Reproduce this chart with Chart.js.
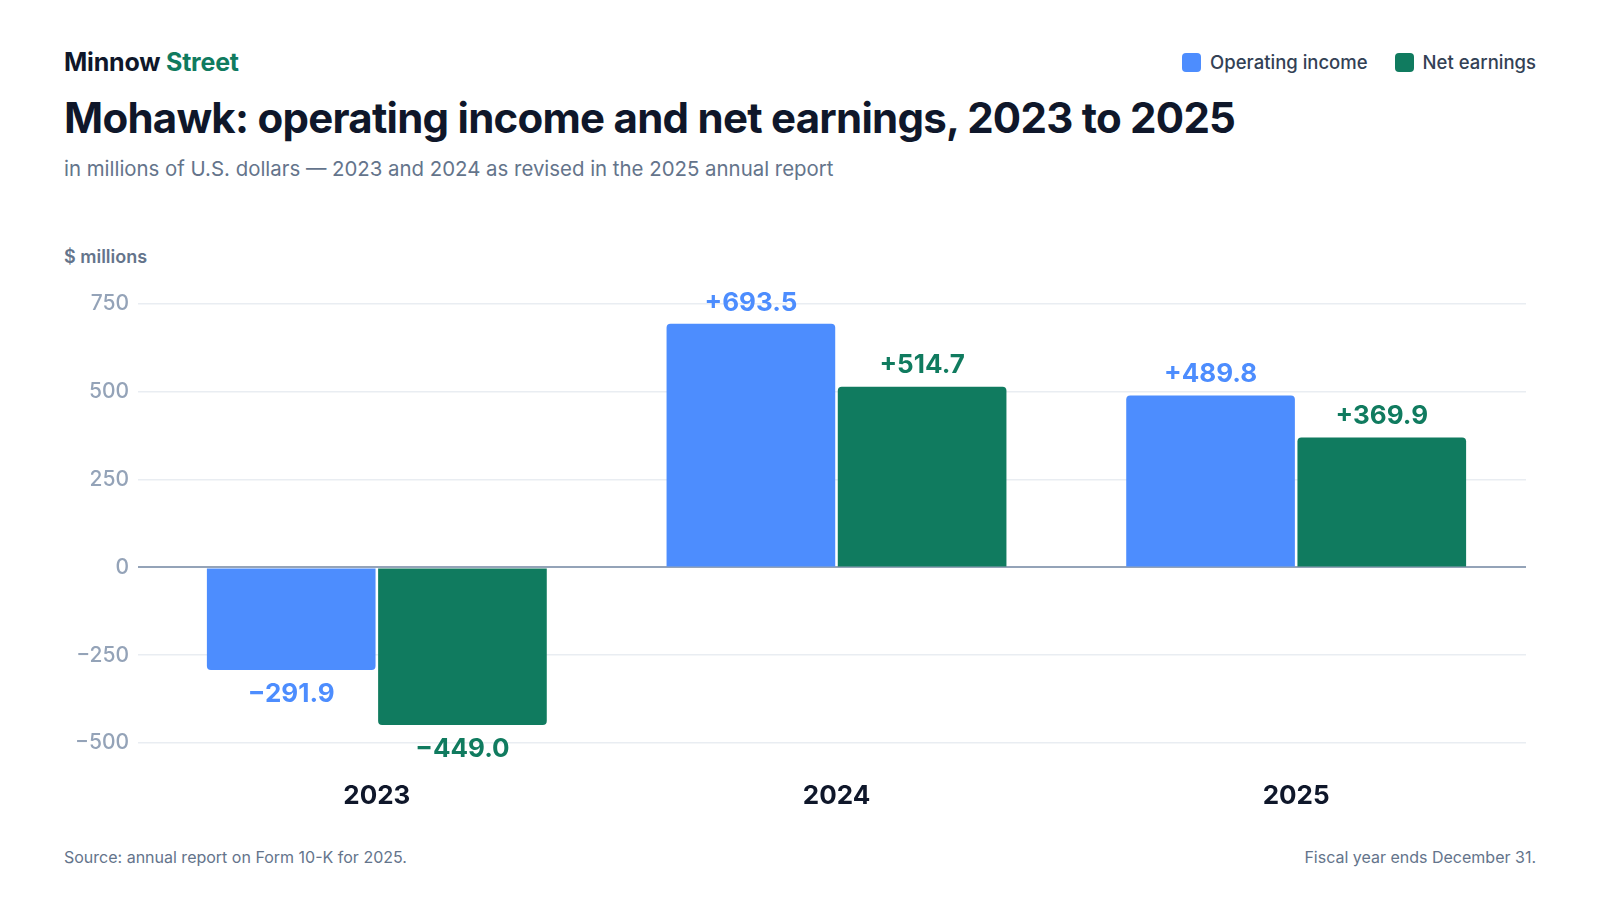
<!DOCTYPE html>
<html>
<head>
<meta charset="utf-8">
<script src="https://cdn.jsdelivr.net/npm/chart.js@4.4.1/dist/chart.umd.min.js"></script>
<style>
  html, body { margin: 0; padding: 0; background: #ffffff; }
  body { width: 1600px; height: 900px; position: relative; overflow: hidden; font-family: Inter, "Noto Sans", sans-serif; }
  .abs { position: absolute; white-space: nowrap; }
  #brand { left: 64px; top: 50px; font-size: 25px; line-height: 25px; font-weight: 700; color: #0f172a; letter-spacing: -0.2px; }
  #brand span { color: #107b5f; }
  #title { left: 64px; top: 97px; font-size: 42px; line-height: 42px; font-weight: 700; color: #0f172a; letter-spacing: -0.75px; }
  #subtitle { left: 64px; top: 159px; font-size: 20.4px; line-height: 20px; font-weight: 400; color: #64748b; }
  #unit { left: 64px; top: 248px; font-size: 18px; line-height: 18px; font-weight: 600; color: #64748b; }
  #legend { right: 64px; top: 52px; display: flex; align-items: center; font-size: 18.5px; line-height: 20px; font-weight: 500; color: #334155; }
  .li { display: flex; align-items: center; }
  .sw { width: 19px; height: 19px; border-radius: 4px; margin-right: 9px; }
  #footL { left: 64px; top: 849px; font-size: 16px; line-height: 16px; color: #64748b; }
  #footR { right: 64px; top: 849px; font-size: 16px; line-height: 16px; color: #64748b; }
  #wrap { position: absolute; left: 0; top: 241px; width: 1600px; height: 600px; }
</style>
</head>
<body>
<div id="brand" class="abs">Minnow <span>Street</span></div>
<div id="legend" class="abs"></div>
<div id="title" class="abs">Mohawk: operating income and net earnings, 2023 to 2025</div>
<div id="subtitle" class="abs">in millions of U.S. dollars — 2023 and 2024 as revised in the 2025 annual report</div>
<div id="unit" class="abs">$ millions</div>
<div id="wrap"><canvas id="c"></canvas></div>
<div id="footL" class="abs">Source: annual report on Form 10-K for 2025.</div>
<div id="footR" class="abs">Fiscal year ends December 31.</div>
<script>
const categories = ['2023', '2024', '2025'];
const operatingIncome = [-291.9, 693.5, 489.8];
const netEarnings = [-449.0, 514.7, 369.9];
const seriesNames = ['Operating income', 'Net earnings'];
const yTicks = [-500, -250, 0, 250, 500, 750];

const BLUE = '#4d8dfe';
const GREEN = '#107b5f';
const colors = [BLUE, GREEN];

// HTML legend
const legend = document.getElementById('legend');
seriesNames.forEach((n, i) => {
  const li = document.createElement('div');
  li.className = 'li';
  if (i > 0) li.style.marginLeft = '27px';
  const sw = document.createElement('div');
  sw.className = 'sw';
  sw.style.background = colors[i];
  const t = document.createElement('span');
  t.textContent = n;
  li.appendChild(sw); li.appendChild(t);
  legend.appendChild(li);
});

const fmtSigned = v => (v > 0 ? '+' : v < 0 ? '\u2212' : '') + Math.abs(v).toFixed(1);

const valueLabels = {
  id: 'valueLabels',
  afterDatasetsDraw(chart) {
    const ctx = chart.ctx;
    ctx.save();
    ctx.font = '700 26px Inter, "Noto Sans", sans-serif';
    ctx.textAlign = 'center';
    ctx.textBaseline = 'middle';
    chart.data.datasets.forEach((ds, di) => {
      const meta = chart.getDatasetMeta(di);
      meta.data.forEach((el, i) => {
        const v = ds.data[i];
        ctx.fillStyle = ds.backgroundColor;
        const y = v >= 0 ? el.y - 21 : el.y + 24;
        ctx.fillText(fmtSigned(v), el.x, y);
      });
    });
    ctx.restore();
  }
};

new Chart(document.getElementById('c'), {
  type: 'bar',
  data: {
    labels: categories,
    datasets: [
      { label: seriesNames[0], data: operatingIncome, backgroundColor: BLUE, borderRadius: 4, borderSkipped: 'start',
        categoryPercentage: 0.745, barPercentage: 0.985 },
      { label: seriesNames[1], data: netEarnings, backgroundColor: GREEN, borderRadius: 4, borderSkipped: 'start',
        categoryPercentage: 0.745, barPercentage: 0.985 }
    ]
  },
  options: {
    responsive: true,
    maintainAspectRatio: false,
    animation: false,
    layout: { padding: { left: 0, right: 74, top: 63, bottom: 28 } },
    plugins: { legend: { display: false }, tooltip: { enabled: false } },
    scales: {
      x: {
        grid: { display: false, drawTicks: false },
        border: { display: false },
        ticks: { color: '#0f172a', font: { family: 'Inter', size: 26, weight: '700' }, padding: 38 },
        afterFit(s) { s.height = 70; }
      },
      y: {
        min: yTicks[0],
        max: yTicks[yTicks.length - 1],
        afterBuildTicks(s) { s.ticks = yTicks.map(v => ({ value: v })); },
        border: { display: false },
        grid: {
          color: c => (c.tick && c.tick.value === 0) ? '#94a3b8' : '#e9edf2',
          lineWidth: c => (c.tick && c.tick.value === 0) ? 2 : 1.5,
          drawTicks: true,
          tickLength: 9
        },
        ticks: {
          color: '#94a3b8',
          font: { family: 'Inter', size: 21, weight: '500' },
          padding: 9,
          callback: v => (v < 0 ? '\u2212' + Math.abs(v) : String(v))
        },
        afterFit(s) { s.width = 147; }
      }
    }
  },
  plugins: [valueLabels]
});
</script>
</body>
</html>
